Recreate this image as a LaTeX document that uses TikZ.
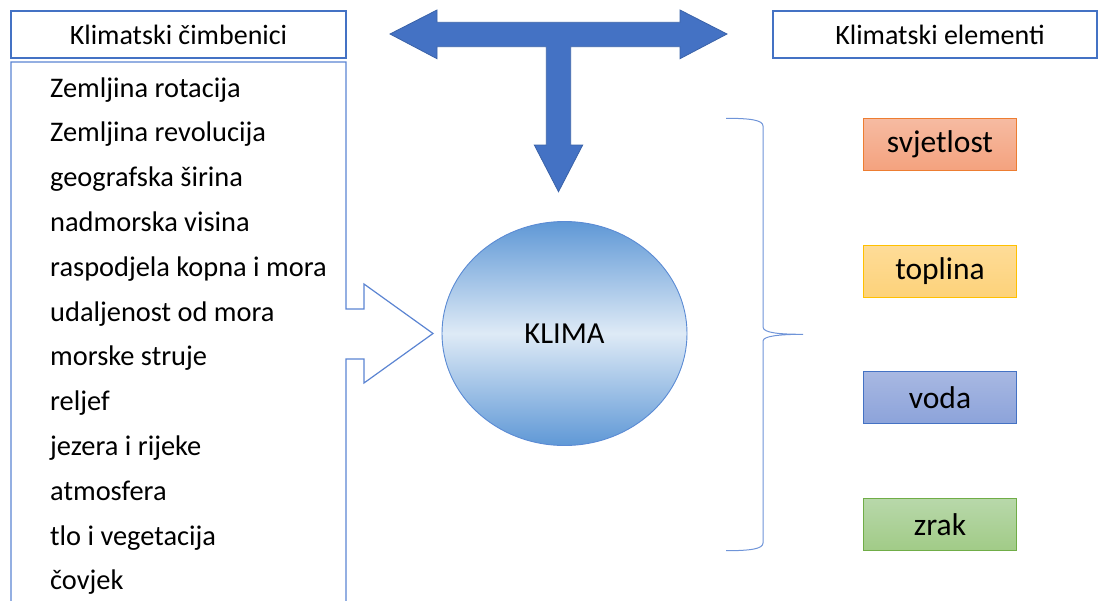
\documentclass[tikz,border=0pt]{standalone}
\usepackage{fontspec}
\setmainfont{Carlito}
\usetikzlibrary{shapes.geometric}
\begin{document}
\begin{tikzpicture}[x=1pt,y=-1pt,
  hdrbox/.style={draw=hdrblue,line width=1.2pt,minimum width=335pt,minimum height=47pt,inner sep=0pt,font=\fontsize{28}{33}\selectfont},
  item/.style={anchor=base west,inner sep=0pt,font=\fontsize{28.4}{34}\selectfont},
  elbox/.style={line width=1pt,minimum width=153pt,minimum height=52pt,inner sep=0pt,font=\fontsize{31.5}{37}\selectfont}
]
\definecolor{hdrblue}{HTML}{4472C4}
\definecolor{listblue}{HTML}{5B84D2}
\definecolor{tblue}{HTML}{4472C4}
\definecolor{tblueedge}{HTML}{3A62A8}
\definecolor{circtop}{HTML}{5F98D6}
\definecolor{circmid}{HTML}{DEEAF6}
\definecolor{circedge}{HTML}{5B8BD4}
\definecolor{bracec}{HTML}{6F94D8}
\definecolor{ortop}{HTML}{F6BBA2}
\definecolor{orbot}{HTML}{F4A27E}
\definecolor{oredge}{HTML}{ED7D31}
\definecolor{yetop}{HTML}{FEDC98}
\definecolor{yebot}{HTML}{FDD27A}
\definecolor{yeedge}{HTML}{FFC000}
\definecolor{bltop}{HTML}{A8B8E2}
\definecolor{blbot}{HTML}{8CA3DA}
\definecolor{bledge}{HTML}{4472C4}
\definecolor{grtop}{HTML}{B8D8AA}
\definecolor{grbot}{HTML}{A1CB87}
\definecolor{gredge}{HTML}{70AD47}

\useasboundingbox (0,0) rectangle (1098,600);

% header boxes
\node[hdrbox] (hleft) at (178.5,34.5) {Klimatski čimbenici};
\node[hdrbox,minimum width=324pt] (hright) at (935,34.5) {\hspace*{10pt}Klimatski elementi};

% list box with arrow notch
\draw[listblue,line width=1.2pt,line join=miter]
  (11,601) -- (11,62) -- (346,62) -- (346,309) -- (364,309) -- (364,284)
  -- (433,333.5) -- (364,383) -- (364,359) -- (346,359) -- (346,601);

% list items
\foreach \t [count=\i from 0] in {Zemljina rotacija,Zemljina revolucija,geografska širina,nadmorska visina,raspodjela kopna i mora,udaljenost od mora,morske struje,reljef,jezera i rijeke,atmosfera,tlo i vegetacija,čovjek}
  \node[item] (it\i) at (50,97.2+44.78*\i) {\t};

% T arrow
\draw[fill=tblue,draw=tblueedge,line width=0.8pt,line join=miter]
  (390,34) -- (437,10) -- (437,22.3) -- (680,22.3) -- (680,10) -- (727,34)
  -- (680,58.7) -- (680,46.7) -- (570.7,46.7) -- (570.7,145) -- (582.7,145)
  -- (558.5,191.7) -- (534.3,145) -- (546.3,145) -- (546.3,46.7) -- (437,46.7)
  -- (437,58.7) -- cycle;

% circle
\node[ellipse,minimum width=245pt,minimum height=224pt,inner sep=0pt,
  draw=circedge,line width=0.9pt,top color=circtop,bottom color=circtop,middle color=circmid,
  font=\fontsize{30.5}{36}\selectfont] (klima) at (564.5,333.5) {KLIMA};

% brace
\draw[bracec,line width=1pt]
  (726,118.3) .. controls (750,118.3) and (763,120) .. (763,126)
  -- (763,327) .. controls (763,333) and (780,334.3) .. (803,334.3)
  .. controls (780,334.3) and (763,336) .. (763,341)
  -- (763,543) .. controls (763,549) and (750,550.7) .. (726,550.7);

% element boxes
\node[elbox,draw=oredge,top color=ortop,bottom color=orbot] (svj) at (940,144.5) {svjetlost};
\node[elbox,draw=yeedge,top color=yetop,bottom color=yebot] (topl) at (940,271) {toplina};
\node[elbox,draw=bledge,top color=bltop,bottom color=blbot] (voda) at (940,397.5) {voda};
\node[elbox,draw=gredge,top color=grtop,bottom color=grbot] (zrak) at (940,524.5) {zrak};
\end{tikzpicture}
\end{document}
